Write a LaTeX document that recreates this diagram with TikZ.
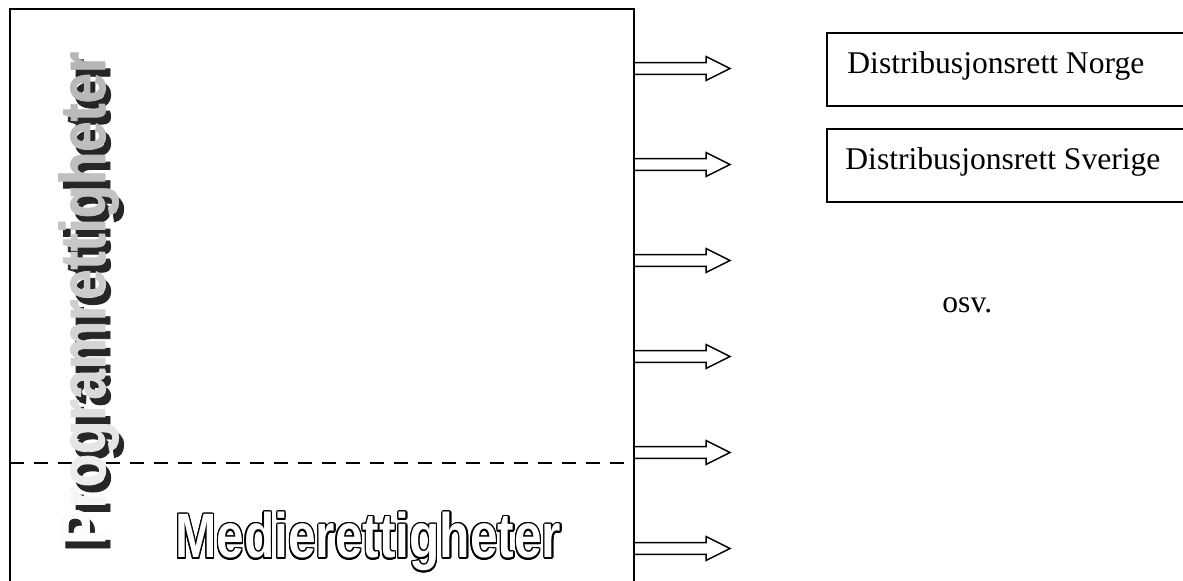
\documentclass[tikz,border=0pt]{standalone}
\usepackage{fontspec}
\setmainfont{Liberation Serif}
\newfontfamily\heavysans[FakeBold=1.5]{Liberation Sans Bold}
\newfontfamily\boldsans{Liberation Sans Bold}

\tikzset{
  frame/.style={line width=1pt, line cap=rect},
  splitline/.style={line width=1pt, dash pattern=on 7pt off 5pt},
  dbox/.style={draw, line width=1pt, minimum width=182pt, minimum height=36.5pt, inner sep=0pt},
  dtext/.style={inner sep=0pt, font=\fontsize{15.8}{19}\selectfont},
  blockarrow/.style={draw, fill=white, line width=0.75pt, line join=miter},
  vtitle/.style={inner sep=0pt, rotate=90, xscale=0.85, anchor=base west, font=\heavysans\fontsize{32}{34}\selectfont},
  mtitle/.style={inner sep=0pt, anchor=base west, xscale=0.79, font=\boldsans\fontsize{31.4}{34}\selectfont},
}

\begin{document}
\begin{tikzpicture}[x=0.5pt, y=-0.5pt]
\clip (0,0) rectangle (1183,581);
\fill[white] (0,0) rectangle (1183,581);

% dashed split between programme rights and media rights
\coordinate (dl) at (10,463.5);
\coordinate (dr) at (634,463.5);
\draw[splitline] (dl) -- (dr);

% vertical title: dark drop shadow, then the graded light letters
\node[vtitle, text={gray!30!black}] (progshadow) at (110,552) {Programrettigheter};
\node[vtitle] (prog) at (105,545) {%
  {\color[gray]{.99}P}{\color[gray]{.96}r}{\color[gray]{.93}o}{\color[gray]{.90}g}%
  {\color[gray]{.87}r}{\color[gray]{.85}a}{\color[gray]{.83}m}{\color[gray]{.81}r}%
  {\color[gray]{.80}e}{\color[gray]{.79}t}{\color[gray]{.78}t}{\color[gray]{.77}i}%
  {\color[gray]{.76}g}{\color[gray]{.75}h}{\color[gray]{.74}e}{\color[gray]{.73}t}%
  {\color[gray]{.72}e}{\color[gray]{.71}r}};

% outlined title of the lower part: black halo, white letters on top
\foreach \a in {0,22.5,...,337.5}
  \node[mtitle, text=black, xshift={0.8pt*cos(\a)}, yshift={0.8pt*sin(\a)}] at (175,558) {Medierettigheter};
\node[mtitle, text=white] (medie) at (175,558) {Medierettigheter};

% block arrows leaving the frame
\foreach \i/\yc in {1/68.5,2/164.5,3/260.5,4/356.5,5/452.5,6/548.5}{
  \coordinate (s\i) at (634,\yc);
  \draw[blockarrow] (s\i) ++(0,-5.8) -- ++(72,0) -- ++(0,-6.2) -- ++(24,12)
        -- ++(-24,12) -- ++(0,-6.2) -- ++(-72,0);
}

% frame
\coordinate (fbl) at (10,600);
\coordinate (ftl) at (10,9);
\coordinate (ftr) at (634,9);
\coordinate (fbr) at (634,600);
\draw[frame] (fbl) -- (ftl) -- (ftr) -- (fbr);

% distribution rights
\node[dbox, anchor=north west] (norge) at (826,32) {};
\node[dtext, anchor=base west] (norgetxt) at (847,74) {Distribusjonsrett Norge};
\node[dbox, anchor=north west] (sverige) at (826,128) {};
\node[dtext, anchor=base west] (sverigetxt) at (845,170) {Distribusjonsrett Sverige};
\node[dtext, anchor=base west] (osv) at (942,313) {osv.};
\end{tikzpicture}
\end{document}
